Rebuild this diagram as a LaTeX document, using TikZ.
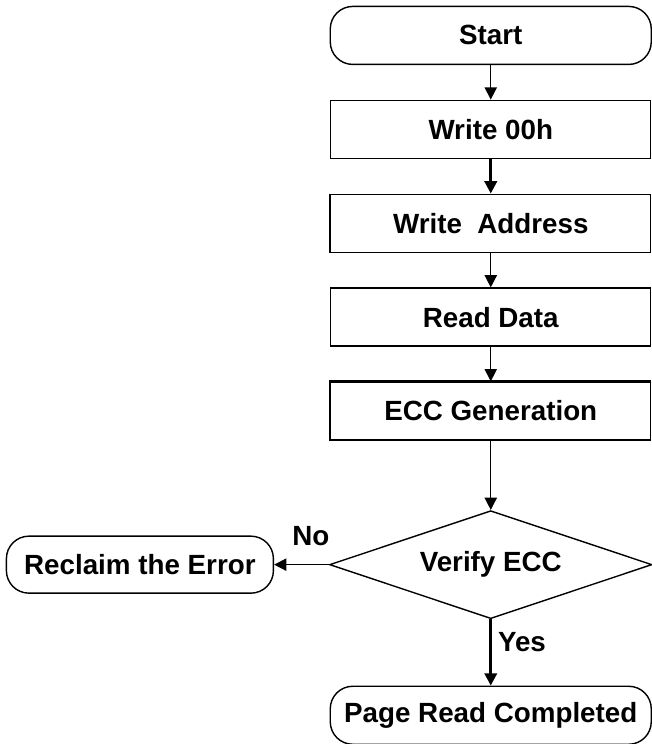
\documentclass[tikz,border=0pt]{standalone}
\usepackage{fontspec}
\setmainfont{Liberation Sans}
\usetikzlibrary{matrix,shapes.geometric,arrows.meta}

\tikzset{
  term/.style={draw, rounded corners=0.45cm, minimum width=6.42cm, minimum height=1.16cm},
  proc/.style={draw, minimum width=6.4cm, minimum height=1.16cm},
  test/.style={draw, diamond, aspect=3, minimum width=6.45cm, minimum height=2.16cm, inner sep=0pt},
  arr/.style={-{Triangle[length=7pt,width=7pt]}},
}

\begin{document}
\begin{tikzpicture}[font=\fontsize{15.8}{18}\selectfont\bfseries, line width=0.8pt]
  \useasboundingbox (0,0) rectangle (13.04,-14.88);
  \matrix (m) [matrix of nodes, row sep=0.69cm, column sep=1.1cm, inner sep=0pt,
               nodes={anchor=center}, anchor=north west] at (0.1,-0.1)
  {
     & |[term]| Start \\
     & |[proc]| Write 00h \\
     & |[proc]| Write~ Address \\
     & |[proc]| Read Data \\
     & |[proc]| ECC Generation \\[0.7cm]
     |[term, minimum width=5.34cm, minimum height=1.14cm]| Reclaim the Error & |[test]| Verify ECC \\[0.64cm]
     & |[term]| Page Read Completed \\
  };
  \path[arr]
    (m-1-2) edge (m-2-2)
    (m-2-2) edge[line width=1.6pt] (m-3-2)
    (m-3-2) edge (m-4-2)
    (m-4-2) edge (m-5-2)
    (m-5-2) edge (m-6-2)
    (m-6-2) edge node[above, pos=0, xshift=-0.36cm, yshift=0.24cm] {No} (m-6-1)
    (m-6-2) edge[line width=1.6pt] node[right, pos=0.35] {Yes} (m-7-2);
  % heavier sides
  \draw[line width=1.6pt] (m-5-2.south west) |- (m-5-2.north east);
  \draw[line width=1.6pt] (m-3-2.south west) -- (m-3-2.north west);
\end{tikzpicture}
\end{document}
